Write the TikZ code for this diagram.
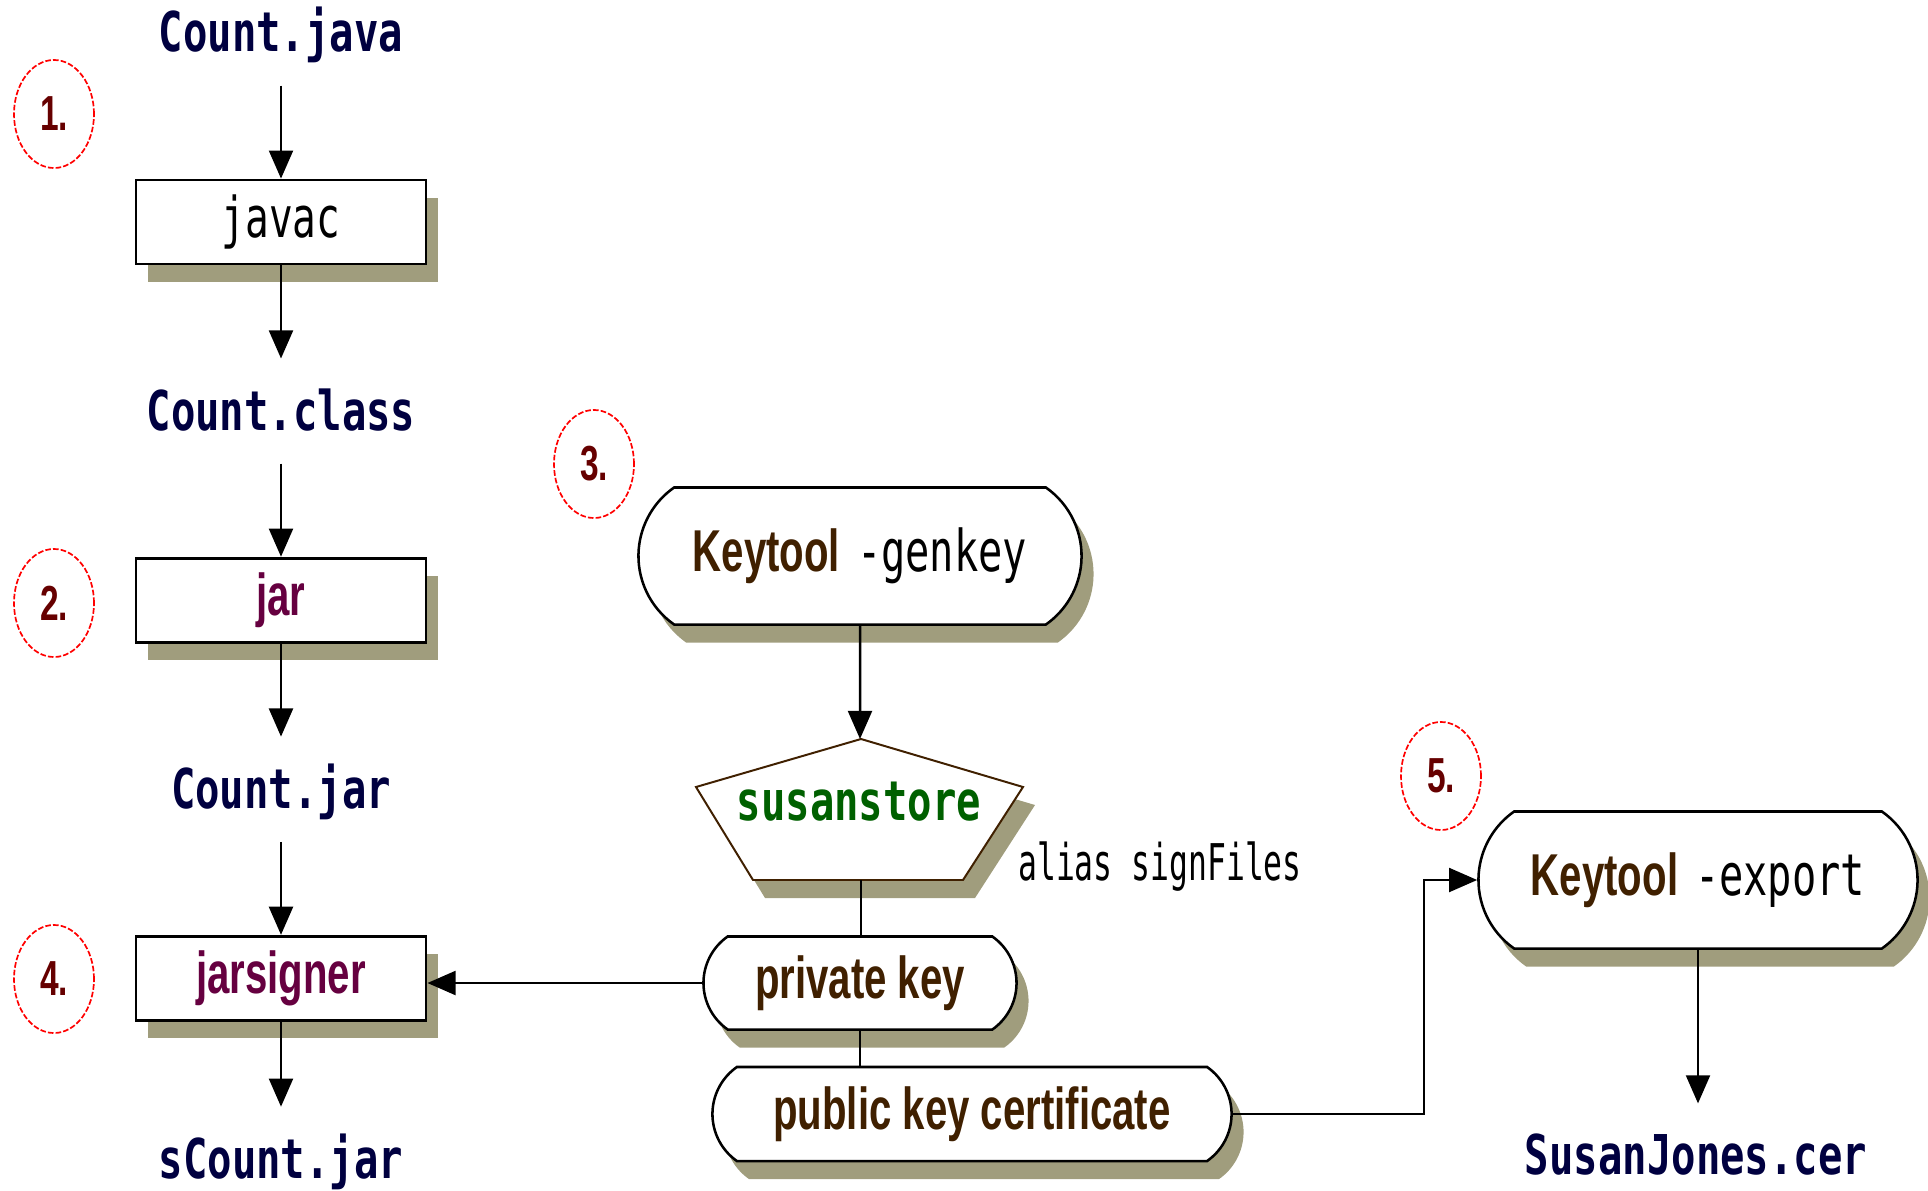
\documentclass[tikz,border=0pt]{standalone}
\usepackage{fontspec}
\usetikzlibrary{arrows.meta,positioning,shapes.geometric,shapes.misc,shadows}
\newfontfamily\filefont[FakeStretch=0.74]{DejaVu Sans Mono}
\newfontfamily\thinfont[FakeStretch=0.70]{DejaVu Sans Mono}
\newfontfamily\aliasfont[FakeStretch=0.62]{DejaVu Sans Mono}
\newfontfamily\narrowfont[FakeStretch=0.68]{Liberation Sans}
\definecolor{filenavy}{RGB}{0,0,64}
\definecolor{jarpurple}{RGB}{102,0,64}
\definecolor{keybrown}{RGB}{64,32,0}
\definecolor{storegreen}{RGB}{0,96,0}
\definecolor{stepred}{RGB}{102,0,0}
\definecolor{shadowolive}{RGB}{160,157,125}
\tikzset{
file_name/.style={
	% names of the files: navy, mono, bold
	font=\filefont\bfseries\fontsize{39pt}{40pt}\selectfont,
	text=filenavy,
	inner sep=0pt,
	% fixed height and depth, so that the arrows keep their gap
	text height=50pt,
	text depth=23pt
},
olive_shadow/.style={
	drop shadow={shadow xshift=0.3cm,shadow yshift=-0.45cm,fill=shadowolive,opacity=1}
},
tool_box/.style={
	% The shape:
	rectangle,
	% The size:
	minimum width=7.25cm,
	minimum height=2.1cm,
	% The border:
	line width=2pt,
	draw=black,
	fill=white,
	% the shadow below and right
	olive_shadow
},
key_pill/.style={
	% The shape:
	rounded rectangle,
	rounded rectangle arc length=110,
	inner sep=0pt,
	% The border:
	line width=1.8pt,
	draw=black,
	fill=white,
	olive_shadow,
	% Font
	text=keybrown,
	font=\narrowfont\bfseries\fontsize{42pt}{44pt}\selectfont
},
step_mark/.style={
	ellipse,
	minimum width=2cm,
	minimum height=2.7cm,
	draw=red,
	line width=1.2pt,
	dash pattern=on 4pt off 1.5pt,
	text=stepred,
	font=\narrowfont\bfseries\fontsize{35pt}{36pt}\selectfont
}
}
\newcommand{\thinpart}[1]{{\thinfont\mdseries\color{black}\fontsize{41pt}{42pt}\selectfont #1}}

\begin{document}
\begin{tikzpicture}[x=0.025cm,y=-0.025cm,->,>={Triangle[length=20pt,width=17pt]},line width=1.8pt,node distance=4.725cm]
	\useasboundingbox (0,0) rectangle (1928,1191);
	% left column: compile, jar, sign
	\node[file_name] (java) at (281,33) {Count.java};
	\node[tool_box,font=\thinfont\fontsize{40pt}{40pt}\selectfont] (javac) [below of=java] {javac};
	\node[file_name] (class) [below of=javac] {Count.class};
	\node[tool_box,text=jarpurple,font=\narrowfont\bfseries\fontsize{42pt}{44pt}\selectfont] (jar) [below of=class] {jar};
	\node[file_name] (countjar) [below of=jar] {Count.jar};
	\node[tool_box,text=jarpurple,font=\narrowfont\bfseries\fontsize{42pt}{44pt}\selectfont] (jarsigner) [below of=countjar] {jarsigner};
	\node[file_name] (sjar) [below of=jarsigner,yshift=0.2cm] {sCount.jar};

	% the steps
	\node[step_mark] (n1) at (54,114) {1.};
	\node[step_mark] (n2) at (54,603) {2.};
	\node[step_mark] (n3) at (594,464) {3.};
	\node[step_mark] (n4) at (54,979) {4.};
	\node[step_mark] (n5) at (1441,776) {5.};

	% keystore
	\node[key_pill,minimum width=11.075cm,minimum height=3.425cm] (genkey) at (860,556) {Keytool\hspace{12pt}\thinpart{-genkey}};
	\coordinate (store_top) at (861,739);
	\coordinate (store_bot) at (861,880);
	\filldraw[-,draw=keybrown,fill=white,line width=1.4pt,olive_shadow] (store_top) -- (1023,787) -- (963,880) -- (753,880) -- (696,787) -- cycle;
	\node[file_name,text=storegreen] (store) at (859,802) {susanstore};
	\node[font=\aliasfont\fontsize{36pt}{38pt}\selectfont,inner sep=0pt] (alias) at (1160,867) {alias signFiles};
	\node[key_pill,minimum width=7.825cm,minimum height=2.325cm] (privkey) at (860,983) {private key};
	\node[key_pill,minimum width=12.975cm,minimum height=2.35cm] (pubkey) at (972,1114) {public key certificate};

	% export
	\node[key_pill,minimum width=10.975cm,minimum height=3.425cm] (export) at (1698,880) {Keytool\hspace{12pt}\thinpart{-export}};
	\node[file_name] (cer) at (1696,1156) {SusanJones.cer};

	\draw (java) -- (javac);
	\draw (javac) -- (class);
	\draw (class) -- (jar);
	\draw (jar) -- (countjar);
	\draw (countjar) -- (jarsigner);
	\draw (jarsigner) -- (sjar);
	\draw (genkey) -- (genkey.south |- store_top);
	\draw[-] (store_bot) -- (store_bot |- privkey.north);
	\draw[-] (privkey.south) -- (privkey.south |- pubkey.north);
	\draw (privkey.west) -- (privkey.west -| jarsigner.east);
	\draw (pubkey.east) -- ++(191,0) |- (export.west);
	\draw (export.south) -- (export.south |- cer.north);
\end{tikzpicture}
\end{document}
